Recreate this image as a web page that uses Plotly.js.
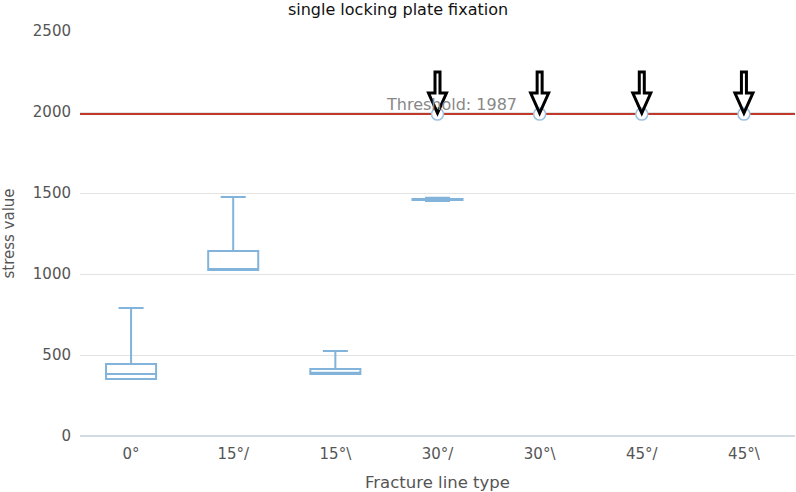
<!DOCTYPE html>
<html>
<head>
<meta charset="utf-8">
<script src="https://cdn.plot.ly/plotly-3.0.1.min.js"></script>
<style>html,body{margin:0;padding:0;background:#fff;}#chart{width:796px;height:492px;}</style>
</head>
<body>
<div id="chart"></div>
<script>
const categories = ['0°', '15°/', '15°\\', '30°/', '30°\\', '45°/', '45°\\'];
const boxCategories = ['0°', '15°/', '15°\\', '30°/'];
const lowerFence = [352, 1025, 383, 1450];
const q1 = [352, 1025, 383, 1457];
const median = [383, 1030, 390, 1460];
const q3 = [444, 1142, 414, 1463];
const upperFence = [790, 1475, 525, 1470];
const threshold = 1987;
const exceedCategories = ['30°/', '30°\\', '45°/', '45°\\'];
const exceedValues = [1987, 1987, 1987, 1987];

const boxColor = '#82b3da';

const traces = [
  {
    type: 'box',
    x: boxCategories,
    q1: q1,
    median: median,
    q3: q3,
    lowerfence: lowerFence,
    upperfence: upperFence,
    width: 0.49,
    whiskerwidth: 0.5,
    fillcolor: 'rgba(255,255,255,0)',
    line: {color: boxColor, width: 2},
    boxpoints: false,
    showlegend: false,
    hoverinfo: 'skip'
  },
  {
    type: 'scatter',
    mode: 'markers',
    x: exceedCategories,
    y: exceedValues,
    marker: {size: 12, color: '#ffffff', line: {color: '#9cc1e0', width: 1.5}},
    showlegend: false,
    cliponaxis: false
  }
];

// hollow down-arrow glyph (pixel-sized) anchored on each exceeding point
const arrowPath = 'M 0,1 L -9,21 L -2.5,21 L -2.5,42 L 2.5,42 L 2.5,21 L 9,21 Z';
const shapes = [{
  type: 'line', xref: 'paper', x0: 0, x1: 1, yref: 'y', y0: threshold, y1: threshold,
  line: {color: '#c0392b', width: 2}, layer: 'below'
}];
exceedCategories.forEach((c, i) => {
  shapes.push({
    type: 'path', xref: 'x', yref: 'y',
    xsizemode: 'pixel', ysizemode: 'pixel',
    xanchor: categories.indexOf(c), yanchor: exceedValues[i],
    path: arrowPath,
    line: {color: '#000000', width: 3}, fillcolor: 'rgba(255,255,255,0)',
    layer: 'above'
  });
});

const annotations = [{
  x: '30°/', y: threshold, xref: 'x', yref: 'y',
  text: 'Threshold: ' + threshold, showarrow: false,
  xanchor: 'center', yanchor: 'bottom', xshift: 14, yshift: -2,
  font: {family: 'DejaVu Sans', size: 16, color: '#888888'}
}];

const layout = {
  width: 796, height: 492,
  margin: {l: 80, r: 1, t: 31, b: 56},
  paper_bgcolor: '#ffffff', plot_bgcolor: '#ffffff',
  font: {family: 'DejaVu Sans', size: 15, color: '#555555'},
  title: {text: 'single locking plate fixation', x: 0.5, xanchor: 'center', y: 0.981, yanchor: 'middle', yref: 'container',
          font: {family: 'DejaVu Sans', size: 16, color: '#111111'}},
  xaxis: {
    type: 'category', categoryorder: 'array', categoryarray: categories,
    range: [-0.5, 6.5], showgrid: false, showline: false, ticks: '', ticklabelstandoff: 7,
    tickfont: {size: 15, color: '#555555'},
    title: {text: 'Fracture line type', font: {size: 16.5, color: '#555555'}, standoff: 14}
  },
  yaxis: {
    range: [0, 2500], tickvals: [0, 500, 1000, 1500, 2000, 2500],
    gridcolor: '#e3e3e3', gridwidth: 1, zeroline: true, zerolinecolor: '#d3dbe2', zerolinewidth: 1.5,
    showline: false, ticks: '', ticklabelstandoff: 8,
    tickfont: {size: 15, color: '#555555'},
    title: {text: 'stress value', font: {size: 15, color: '#555555'}, standoff: 14}
  },
  shapes: shapes,
  annotations: annotations
};

Plotly.newPlot('chart', traces, layout, {displayModeBar: false, staticPlot: true});
</script>
</body>
</html>
